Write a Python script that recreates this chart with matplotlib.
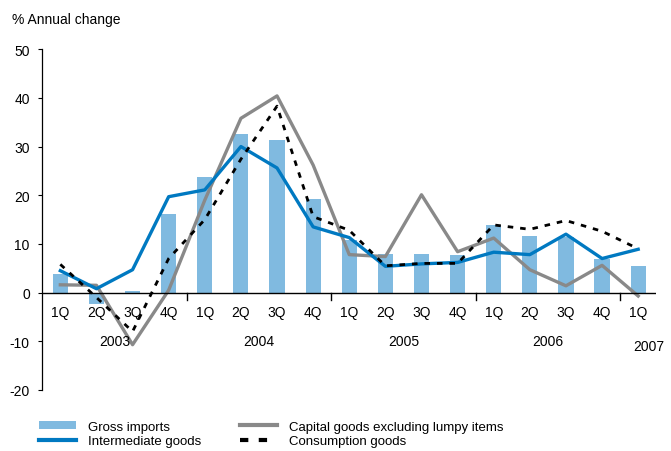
import numpy as np
import matplotlib.pyplot as plt

plt.rcParams['font.family'] = ['Liberation Sans', 'DejaVu Sans']
plt.rcParams['axes.unicode_minus'] = False

# quarters 2003 1Q .. 2007 1Q
quarters = ["1Q", "2Q", "3Q", "4Q"] * 4 + ["1Q"]
years = ["2003", "2004", "2005", "2006", "2007"]

gross_imports = [3.9, -2.4, 0.3, 16.2, 23.8, 32.6, 31.4, 19.2,
                 10.8, 7.9, 7.9, 7.8, 13.8, 11.7, 11.5, 6.8, 5.5]
intermediate = [4.5, 0.8, 4.7, 19.7, 21.1, 30.0, 25.6, 13.5,
                11.3, 5.4, 5.9, 6.2, 8.3, 7.8, 12.0, 7.0, 8.9]
capital = [1.6, 1.5, -10.7, 0.5, 19.0, 35.8, 40.4, 26.2,
           7.8, 7.4, 20.1, 8.4, 11.2, 4.7, 1.4, 5.6, -0.7]
consumption = [5.8, -1.0, -8.0, 7.0, 15.0, 27.4, 38.3, 15.6,
               12.8, 5.5, 6.0, 6.0, 13.9, 13.0, 14.8, 12.6, 9.0]

x = np.arange(len(quarters))

fig = plt.figure(figsize=(6.71, 4.52), dpi=100)
ax = fig.add_axes([0.063, 0.135, 0.915, 0.754])

h_bar = ax.bar(x, gross_imports, width=0.42, color="#80bae0", zorder=1)
h_int, = ax.plot(x, intermediate, color="#0079c1", lw=2.4, zorder=3)
h_cap, = ax.plot(x, capital, color="#898989", lw=2.4, zorder=2)
h_con, = ax.plot(x, consumption, color="black", lw=2.0, ls=(0, (2, 2.5)),
                 zorder=4)

ax.set_xlim(-0.5, 16.5)
ax.set_ylim(-20, 50)
ax.set_yticks(np.arange(-20, 51, 10))
ax.tick_params(axis="y", labelsize=10, length=3, direction="out", pad=6)
ax.set_xticks([])

for s in ["top", "right", "bottom"]:
    ax.spines[s].set_visible(False)
ax.spines["left"].set_linewidth(0.9)

# zero axis line with year separators
ax.axhline(0, color="black", lw=1.0, zorder=5)
for b in [3.5, 7.5, 11.5, 15.5]:
    ax.plot([b, b], [0, -1.5], color="black", lw=1.0, clip_on=False, zorder=5)

for i, q in enumerate(quarters):
    ax.text(i, -2.6, q, ha="center", va="top", fontsize=10)

year_pos = [1.5, 5.5, 9.5, 13.5, 16.3]
year_y = [-8.6, -8.6, -8.6, -8.6, -9.5]
for xp, yp, yr in zip(year_pos, year_y, years):
    ax.text(xp, yp, yr, ha="center", va="top", fontsize=10)

fig.text(0.018, 0.955, "% Annual change", fontsize=10, va="center")

leg = fig.legend([h_bar, h_int, h_cap, h_con],
                 ["Gross imports", "Intermediate goods",
                  "Capital goods excluding lumpy items", "Consumption goods"],
                 loc="lower left", bbox_to_anchor=(0.04, -0.018), ncol=2,
                 frameon=False, fontsize=9.5, handlelength=2.8,
                 handleheight=0.5, columnspacing=3.0, labelspacing=0.2,
                 handletextpad=0.9)
for ln in leg.get_lines():
    ln.set_linewidth(3.0)

fig.savefig("out.png", dpi=100)
